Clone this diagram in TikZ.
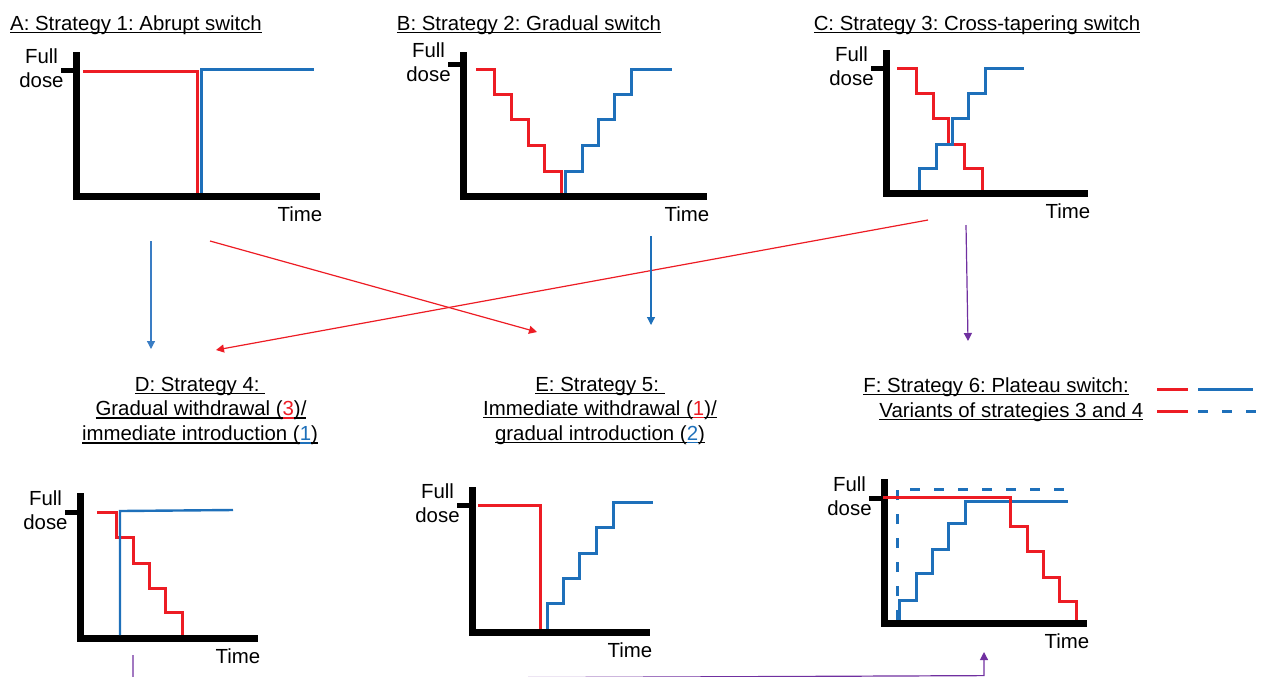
\documentclass[tikz,border=0pt]{standalone}
\usepackage{fontspec}
\setmainfont{Liberation Sans}
\usetikzlibrary{arrows.meta}
\frenchspacing

\definecolor{dosered}{RGB}{237,28,36}
\definecolor{doseblue}{RGB}{30,112,186}
\definecolor{arrowblue}{RGB}{58,125,196}
\definecolor{arrowpurple}{RGB}{112,48,160}

% underline sitting close to the baseline, in the current colour
\newcommand\ulin[1]{\leavevmode\setbox0\hbox{#1}\rlap{\rule[-1.5pt]{\wd0}{0.75pt}}\box0}

\begin{document}
\begin{tikzpicture}[x=0.5pt,y=-0.5pt,line join=miter]
    \tikzstyle{axis}=[line width=3.5pt]
    \tikzstyle{dosetick}=[line width=2.5pt]
    \tikzstyle{annot}=[font=\fontsize{10.2pt}{12pt}\selectfont, inner sep=0pt]
    \tikzstyle{head}=[annot, anchor=base]
    \tikzstyle{dose}=[line width=1.5pt]
    \tikzstyle{old drug}=[dose, draw=dosered]
    \tikzstyle{new drug}=[dose, draw=doseblue]
    \tikzstyle{plateau}=[new drug, dash pattern=on 5pt off 7pt]
    \tikzstyle{link}=[line width=0.6pt, -{Triangle[length=4pt,width=4pt]}]

    \useasboundingbox (0,0) rectangle (1262,676);

    % Draw the axes of the six panels
    \foreach \name / \ax / \ytop / \ay / \xend / \tk in
        {A/76/52/196/320/70, B/463/52/196/707/64, C/886/50/193/1088/68,
         D/80/493/638/258/512, E/472/487/632/650/505, F/884/479/623/1087/498}
    {
        \draw[axis] (\ax,\ytop) -- (\ax,\ay) -- (\xend,\ay);
        \draw[dosetick] (\ax-15,\tk) -- (\ax,\tk);
        \node[annot, align=center, anchor=east] (full-\name) at (\ax-12,\tk-1.5) {Full\\dose};
        \node[annot] (time-\name) at (\xend-20,\ay+18) {Time};
    }

    % Panel titles
    \node[head] (title-A) at (136,30) {\ulin{A: Strategy 1: Abrupt switch}};
    \node[head] (title-B) at (529,30) {\ulin{B: Strategy 2: Gradual switch}};
    \node[head] (title-C) at (977,30) {\ulin{C: Strategy 3: Cross-tapering switch}};
    \node[head] (title-D) at (200,391) {\ulin{D: Strategy 4:\ }};
    \node[head] (title-D-2) at (201,415.5) {\ulin{Gradual withdrawal (}\textcolor{dosered}{\ulin{3}}\ulin{)/}};
    \node[head] (title-D-3) at (200,440.5) {\ulin{immediate introduction (}\textcolor{doseblue}{\ulin{1}}\ulin{)}};
    \node[head] (title-E) at (600,391) {\ulin{E: Strategy 5:\ }};
    \node[head] (title-E-2) at (600,415) {\ulin{Immediate withdrawal (}\textcolor{dosered}{\ulin{1}}\ulin{)/}};
    \node[head] (title-E-3) at (600,440) {\ulin{gradual introduction (}\textcolor{doseblue}{\ulin{2}}\ulin{)}};
    \node[head, anchor=base west] (title-F) at (863,392) {\ulin{F: Strategy 6: Plateau switch:}};
    \node[head, anchor=base west] (title-F-2) at (879,417) {\ulin{Variants of strategies 3 and 4}};

    % Legend of panel F
    \draw[old drug] (1157,389) -- (1188,389);
    \draw[new drug] (1198,389) -- (1253,389);
    \draw[old drug] (1157,411) -- (1188,411);
    \draw[plateau] (1198,411) -- (1262,411);

    % A: abrupt switch
    \draw[old drug] (83,71) -- (197,71) -- (197,193);
    \draw[new drug] (201,193) -- (201,69) -- (314,69);

    % B: gradual switch
    \draw[old drug] (476,69) -- (494,69) -- (494,94) -- (511,94) -- (511,119) -- (528,119)
        -- (528,145) -- (544,145) -- (544,171) -- (561,171) -- (561,193);
    \draw[new drug] (565,193) -- (565,171) -- (582,171) -- (582,145) -- (598,145) -- (598,119)
        -- (614,119) -- (614,94) -- (631,94) -- (631,69) -- (672,69);

    % C: cross-tapering
    \draw[old drug] (897,68) -- (916,68) -- (916,93) -- (933,93) -- (933,118) -- (948,118)
        -- (948,144) -- (964,144) -- (964,168) -- (982,168) -- (982,190);
    \draw[new drug] (919,190) -- (919,168) -- (936,168) -- (936,144) -- (952,144) -- (952,118)
        -- (968,118) -- (968,93) -- (985,93) -- (985,68) -- (1024,68);

    % D: gradual withdrawal / immediate introduction
    \draw[old drug] (97,512) -- (116,512) -- (116,537) -- (133,537) -- (133,563) -- (149,563)
        -- (149,588) -- (165,588) -- (165,612) -- (182,612) -- (182,635);
    \draw[new drug, line width=1.2pt] (120,635) -- (120,511) -- (233,510);

    % E: immediate withdrawal / gradual introduction
    \draw[old drug] (478,505) -- (540,505) -- (540,629);
    \draw[new drug] (547,629) -- (547,603) -- (563,603) -- (563,578) -- (579,578) -- (579,553)
        -- (596,553) -- (596,527) -- (613,527) -- (613,502) -- (653,502);

    % F: plateau switch
    \draw[plateau] (897,620) -- (897,489) -- (1069,489);
    \draw[new drug] (899,620) -- (899,600) -- (916,600) -- (916,573) -- (932,573) -- (932,549)
        -- (948,549) -- (948,523) -- (965,523) -- (965,501) -- (1068,501);
    \draw[old drug] (883,497) -- (1010,497) -- (1010,526) -- (1027,526) -- (1027,551) -- (1043,551)
        -- (1043,577) -- (1059,577) -- (1059,601) -- (1076,601) -- (1076,620);

    % Links between the panels
    \coordinate (A-down) at (151,241);
    \coordinate (D-top) at (151,349);
    \coordinate (A-cross) at (210,241);
    \coordinate (E-cross) at (537,332);
    \coordinate (C-cross) at (928,220);
    \coordinate (D-cross) at (216,350);
    \coordinate (B-down) at (651,236);
    \coordinate (E-top) at (651,325);
    \coordinate (C-down) at (966,225);
    \coordinate (F-top) at (968,341);
    \coordinate (D-down) at (133,655);
    \coordinate (F-bottom) at (984,652);

    \draw[link, arrowblue] (A-down) -- (D-top);
    \draw[link, dosered] (A-cross) -- (E-cross);
    \draw[link, dosered] (C-cross) -- (D-cross);
    \draw[link, doseblue] (B-down) -- (E-top);
    \draw[link, arrowpurple] (C-down) -- (F-top);
    % runs along the lower edge of the page, mostly out of sight
    \draw[link, arrowpurple] (D-down) -- (133,679.3) -- (984,675.6) -- (F-bottom);

\end{tikzpicture}
\end{document}
